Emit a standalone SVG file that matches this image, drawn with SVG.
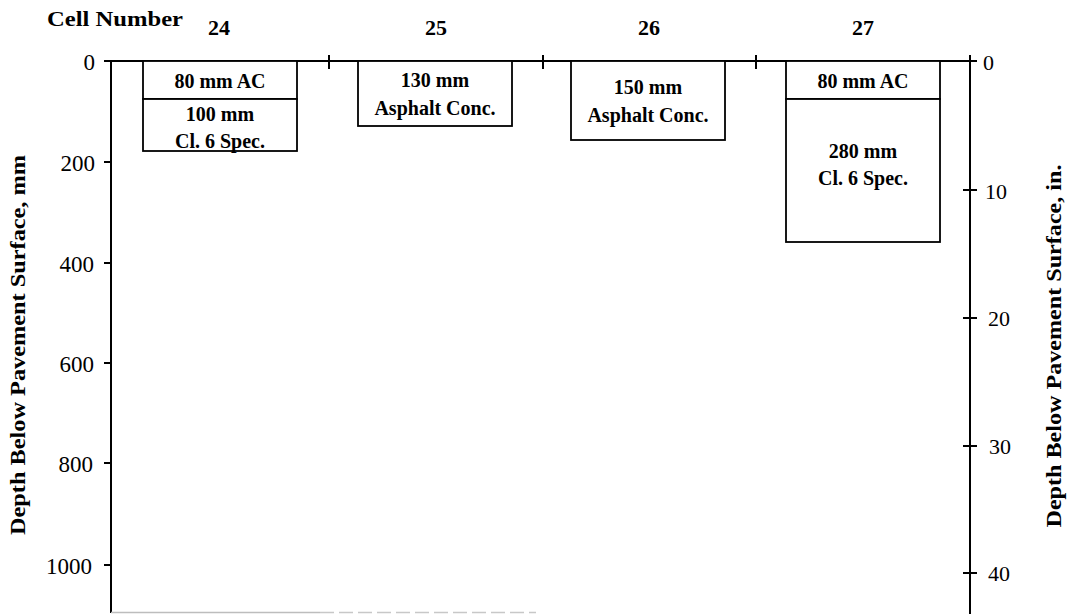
<svg xmlns="http://www.w3.org/2000/svg" width="1077" height="614" viewBox="0 0 1077 614">
<style>
  .ax { stroke:#000; stroke-width:2; fill:none; }
  .box { stroke:#000; stroke-width:1.8; fill:#fff; }
  .lbl { font-size:20px; text-anchor:middle; }
  .num { font-size:22px; text-anchor:middle; }
  .ltk { font-size:23px; text-anchor:end; }
  .rtk { font-size:22px; text-anchor:start; }
</style>
<rect x="0" y="0" width="1077" height="614" fill="#fff"/>

<g id="axes">
  <line class="ax" x1="104" y1="61" x2="977" y2="61"/>
  <line class="ax" x1="329" y1="55" x2="329" y2="69"/>
  <line class="ax" x1="543" y1="55" x2="543" y2="69"/>
  <line class="ax" x1="756" y1="55" x2="756" y2="69"/>
  <line class="ax" x1="111" y1="60" x2="111" y2="613"/>
  <line class="ax" x1="104" y1="162" x2="111" y2="162"/>
  <line class="ax" x1="104" y1="263" x2="111" y2="263"/>
  <line class="ax" x1="104" y1="363" x2="111" y2="363"/>
  <line class="ax" x1="104" y1="463" x2="111" y2="463"/>
  <line class="ax" x1="104" y1="565" x2="111" y2="565"/>
  <line class="ax" x1="970" y1="55" x2="970" y2="614"/>
  <line class="ax" x1="963" y1="190" x2="977" y2="190"/>
  <line class="ax" x1="963" y1="318" x2="977" y2="318"/>
  <line class="ax" x1="963" y1="446" x2="977" y2="446"/>
  <line class="ax" x1="963" y1="573" x2="977" y2="573"/>
  <line x1="111" y1="612.5" x2="320" y2="612.5" stroke="#bdbdbd" stroke-width="1.5"/>
  <line x1="320" y1="612.5" x2="536" y2="612.5" stroke="#c8c8c8" stroke-width="1.5" stroke-dasharray="14 5"/>
</g>

<g id="axis-labels" font-family="Liberation Serif, Times New Roman, DejaVu Serif, serif" fill="#000">
  <g font-weight="bold">
    <text x="47" y="26" font-size="22" textLength="136" lengthAdjust="spacingAndGlyphs">Cell Number</text>
    <text class="num" x="219" y="35">24</text>
    <text class="num" x="436" y="35">25</text>
    <text class="num" x="649" y="35">26</text>
    <text class="num" x="863" y="35">27</text>
    <text font-size="21" text-anchor="middle" transform="translate(25,345) rotate(-90)" textLength="380" lengthAdjust="spacingAndGlyphs">Depth Below Pavement Surface, mm</text>
    <text font-size="21" text-anchor="middle" transform="translate(1061,346) rotate(-90)" textLength="363" lengthAdjust="spacingAndGlyphs">Depth Below Pavement Surface, in.</text>
  </g>
  <text class="ltk" x="95" y="70">0</text>
  <text class="ltk" x="95" y="171">200</text>
  <text class="ltk" x="94" y="272">400</text>
  <text class="ltk" x="94" y="372">600</text>
  <text class="ltk" x="93" y="472">800</text>
  <text class="ltk" x="92" y="574">1000</text>
  <text class="rtk" x="983" y="70">0</text>
  <text class="rtk" x="985" y="199">10</text>
  <text class="rtk" x="988" y="326">20</text>
  <text class="rtk" x="989" y="454">30</text>
  <text class="rtk" x="988" y="581">40</text>
</g>

<g font-family="Liberation Serif, Times New Roman, DejaVu Serif, serif" font-weight="bold" fill="#000">
<g id="cell-24">
  <rect class="box" x="143" y="61" width="154" height="38"/>
  <rect class="box" x="143" y="99" width="154" height="52"/>
  <text class="lbl" x="220" y="88">80 mm AC</text>
  <text class="lbl" x="220" y="121">100 mm</text>
  <text class="lbl" x="220" y="148">Cl. 6 Spec.</text>
</g>
<g id="cell-25">
  <rect class="box" x="358" y="61" width="154" height="65"/>
  <text class="lbl" x="435" y="87">130 mm</text>
  <text class="lbl" x="435" y="115">Asphalt Conc.</text>
</g>
<g id="cell-26">
  <rect class="box" x="571" y="61" width="154" height="79"/>
  <text class="lbl" x="648" y="94">150 mm</text>
  <text class="lbl" x="648" y="122">Asphalt Conc.</text>
</g>
<g id="cell-27">
  <rect class="box" x="786" y="61" width="154" height="38"/>
  <rect class="box" x="786" y="99" width="154" height="143"/>
  <text class="lbl" x="863" y="88">80 mm AC</text>
  <text class="lbl" x="863" y="158">280 mm</text>
  <text class="lbl" x="863" y="185">Cl. 6 Spec.</text>
</g>
</g>

<g id="connectors"></g>
</svg>
